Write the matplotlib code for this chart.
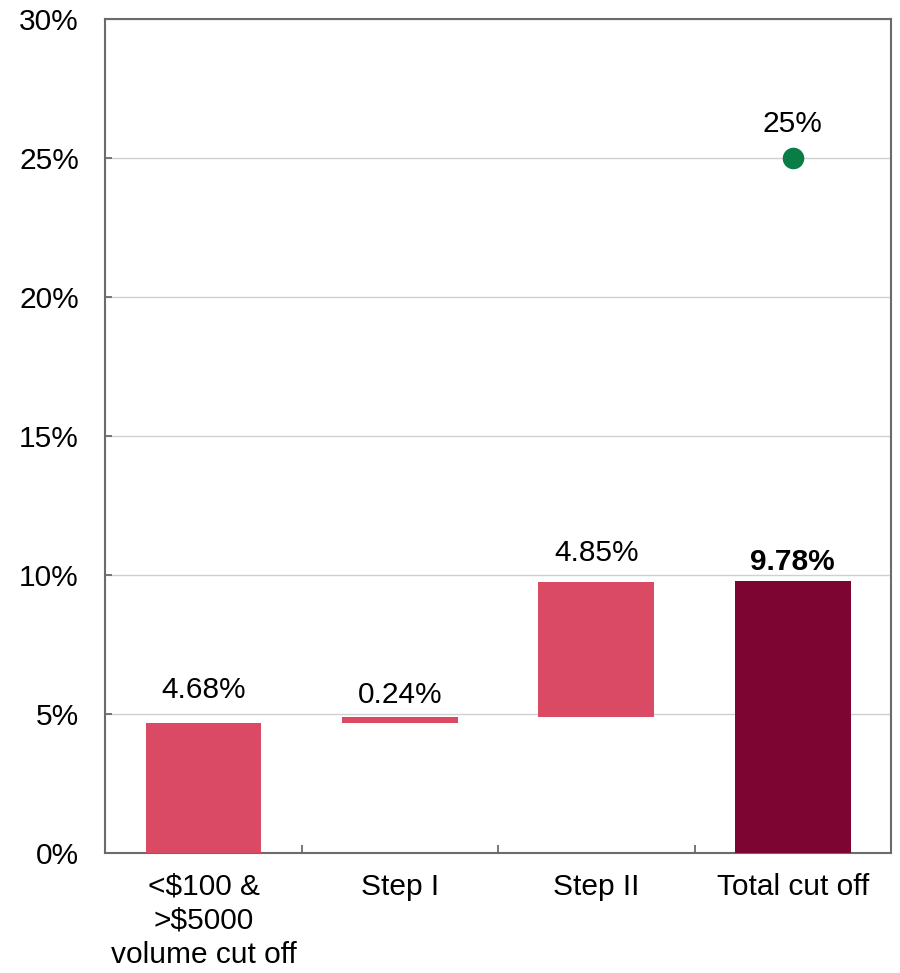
import matplotlib.pyplot as plt
from matplotlib.ticker import FuncFormatter, FixedLocator

plt.rcParams['font.family'] = ['Liberation Sans', 'DejaVu Sans']

categories = ['<$100 &\n>$5000\nvolume cut off', 'Step I', 'Step II', 'Total cut off']
steps = [4.68, 0.24, 4.85]
total = 9.78
target = 25

step_color = '#da4a64'
total_color = '#7c0532'
frame_color = '#6b6b6b'
fs = 21.5

fig = plt.figure(figsize=(9, 9.73), dpi=100)
ax = fig.add_axes([0.117, 0.123, 0.873, 0.857])

x = list(range(len(categories)))
bottoms = [0, steps[0], steps[0] + steps[1]]
ax.bar(x[:3], steps, bottom=bottoms, width=0.59, color=step_color, zorder=3)
ax.bar(x[3], total, width=0.59, color=total_color, zorder=3)

# value labels above each bar
label_gap = [14, 5.5, 10.5]
for i, (b, v) in enumerate(zip(bottoms, steps)):
    ax.annotate(f'{v:.2f}%', (i, b + v), xytext=(0, label_gap[i]), textcoords='offset points',
                ha='center', va='bottom', fontsize=fs)
ax.annotate(f'{total:.2f}%', (3, total), xytext=(0, 4), textcoords='offset points',
            ha='center', va='bottom', fontsize=fs, fontweight='bold')

ax.plot(3, target, 'o', color='#087d46', markersize=14.5, zorder=4)
ax.annotate(f'{target}%', (3, target), xytext=(0, 15), textcoords='offset points',
            ha='center', va='bottom', fontsize=fs)

ax.set_xlim(-0.5, 3.5)
ax.set_ylim(0, 30)
ax.set_yticks(range(0, 31, 5))
ax.yaxis.set_major_formatter(FuncFormatter(lambda v, p: f'{v:.0f}%'))
ax.grid(axis='y', color='#d0d0d0', linewidth=1, zorder=0)

# category names centred under bars, ticks between categories
ax.set_xticks(x)
ax.set_xticklabels(categories, fontsize=fs, linespacing=1.27)
ax.tick_params(axis='x', length=0, pad=14)
ax.xaxis.set_minor_locator(FixedLocator([0.5, 1.5, 2.5]))
ax.tick_params(axis='x', which='minor', direction='in', length=6, width=1.3, color=frame_color)
ax.tick_params(axis='y', direction='in', length=5, width=1.3, color=frame_color,
               labelsize=fs, pad=19)

for s in ax.spines.values():
    s.set_color(frame_color)
    s.set_linewidth(1.5)

fig.savefig('out.png', dpi=100, facecolor='white')
